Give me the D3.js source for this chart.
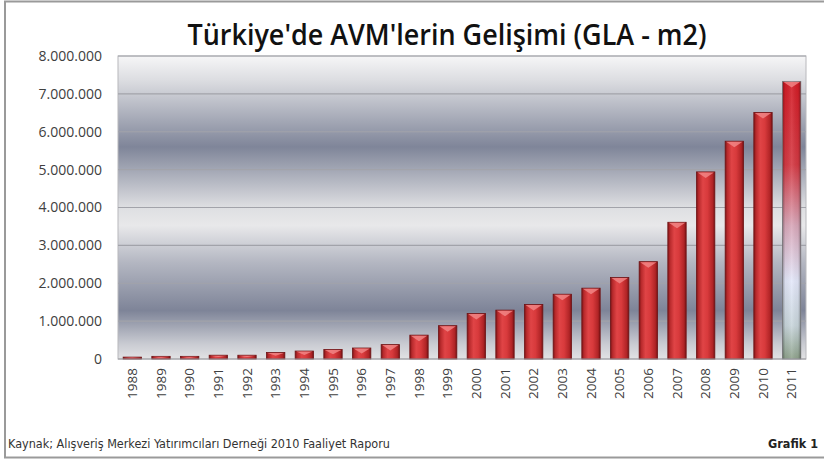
<!DOCTYPE html>
<html>
<head>
<meta charset="utf-8">
<script src="https://cdn.jsdelivr.net/npm/d3@7"></script>
<style>
  body { margin: 0; background: #fff; }
  svg { display: block; }
</style>
</head>
<body>
<div id="chart"></div>
<script>
// data
const years = ["1988","1989","1990","1991","1992","1993","1994","1995","1996","1997","1998","1999",
               "2000","2001","2002","2003","2004","2005","2006","2007","2008","2009","2010","2011"];
const gla = [50000, 70000, 70000, 100000, 100000, 170000, 210000, 250000, 290000, 380000, 630000, 880000,
             1200000, 1290000, 1440000, 1710000, 1870000, 2150000, 2570000, 3610000, 4940000, 5750000, 6510000, 7330000];
const yTicks = [0, 1000000, 2000000, 3000000, 4000000, 5000000, 6000000, 7000000, 8000000];

const width = 824, height = 461;
const margin = {top: 56, right: 18, bottom: 102, left: 118};

const svg = d3.select("#chart").append("svg")
    .attr("width", width)
    .attr("height", height);

const defs = svg.append("defs");

// plot background bands
const bg = defs.append("linearGradient").attr("id", "bg")
    .attr("x1", 0).attr("y1", 0).attr("x2", 0).attr("y2", 1);
[[0, "#f6f6f7"], [0.08, "#dcdde1"], [0.3, "#7f8599"], [0.5, "#dedfe2"], [0.56, "#e8e8ea"],
 [0.68, "#b4b7c2"], [0.84, "#7e8498"], [0.95, "#c9cbd2"], [1, "#e2e2e4"]]
    .forEach(s => bg.append("stop").attr("offset", s[0]).attr("stop-color", s[1]));

// red bar, horizontal shading
const red = defs.append("linearGradient").attr("id", "red")
    .attr("x1", 0).attr("y1", 0).attr("x2", 1).attr("y2", 0);
[[0, "#7e1416"], [0.12, "#b82a2c"], [0.35, "#e04446"], [0.6, "#d83a3c"], [0.88, "#b02426"], [1, "#761214"]]
    .forEach(s => red.append("stop").attr("offset", s[0]).attr("stop-color", s[1]));

// last bar fades to white / green
const last = defs.append("linearGradient").attr("id", "last")
    .attr("x1", 0).attr("y1", 0).attr("x2", 0).attr("y2", 1);
[[0, "#d41c26"], [0.3, "#d53a44"], [0.52, "#d9a8ba"], [0.72, "#e4e8fa"], [0.88, "#c9d6dc"], [1, "#8fa38c"]]
    .forEach(s => last.append("stop").attr("offset", s[0]).attr("stop-color", s[1]));
const edge = defs.append("linearGradient").attr("id", "edge")
    .attr("x1", 0).attr("y1", 0).attr("x2", 1).attr("y2", 0);
[[0, "#000", 0.35], [0.15, "#000", 0.05], [0.5, "#fff", 0.1], [0.85, "#000", 0.05], [1, "#000", 0.35]]
    .forEach(s => edge.append("stop").attr("offset", s[0]).attr("stop-color", s[1]).attr("stop-opacity", s[2]));

// outer frame
svg.append("rect")
    .attr("x", 5).attr("y", 1.5)
    .attr("width", 840).attr("height", 456)
    .attr("fill", "none")
    .attr("stroke", "#9a9a9a")
    .attr("stroke-width", 2);

const x = d3.scaleBand()
    .domain(years)
    .range([margin.left, width - margin.right])
    .paddingInner(0.36)
    .paddingOuter(0.18);

const y = d3.scaleLinear()
    .domain([0, 8000000])
    .range([height - margin.bottom, margin.top]);

// plot area
svg.append("rect")
    .attr("x", margin.left).attr("y", margin.top)
    .attr("width", width - margin.right - margin.left)
    .attr("height", y(0) - margin.top)
    .attr("fill", "url(#bg)")
    .attr("stroke", "#b8b8bc");

// grid lines
svg.append("g")
    .selectAll("line")
    .data(yTicks.slice(1))
    .enter().append("line")
    .attr("x1", margin.left).attr("x2", width - margin.right)
    .attr("y1", d => y(d)).attr("y2", d => y(d))
    .attr("stroke", "#a2a3aa")
    .attr("stroke-width", 1.2);

// y axis labels
const fmt = d => d3.format(",")(d).replace(/,/g, ".");
svg.append("g")
    .selectAll("text")
    .data(yTicks)
    .enter().append("text")
    .attr("x", 102)
    .attr("y", d => y(d))
    .attr("dy", "0.35em")
    .attr("text-anchor", "end")
    .style("font-family", "'Open Sans', sans-serif")
    .style("font-size", "14px")
    .style("fill", "#404040")
    .text(fmt);

// bars
const bars = svg.append("g")
    .selectAll("g")
    .data(years.map((yr, i) => ({year: yr, value: gla[i], i: i})))
    .enter().append("g");

bars.append("rect")
    .attr("x", d => x(d.year))
    .attr("y", d => y(d.value))
    .attr("width", x.bandwidth())
    .attr("height", d => y(0) - y(d.value))
    .attr("fill", d => d.i === years.length - 1 ? "url(#last)" : "url(#red)")
    .attr("stroke", d => d.i === years.length - 1 ? "#8a8a8e" : "#6e1214")
    .attr("stroke-width", 0.8);

bars.filter(d => d.i === years.length - 1).append("rect")
    .attr("x", d => x(d.year))
    .attr("y", d => y(d.value))
    .attr("width", x.bandwidth())
    .attr("height", d => y(0) - y(d.value))
    .attr("fill", "url(#edge)");

// bevel on top of each bar
bars.append("path")
    .attr("d", d => {
        const x0 = x(d.year), w = x.bandwidth(), t = y(d.value);
        const h = Math.min(6, (y(0) - t) * 0.5);
        return `M${x0 + 1},${t + 0.5} L${x0 + w - 1},${t + 0.5} L${x0 + w * 0.5},${t + h} Z`;
    })
    .attr("fill", "#f28a8a")
    .attr("opacity", 0.8);

// baseline
svg.append("line")
    .attr("x1", margin.left).attr("x2", width - margin.right)
    .attr("y1", y(0)).attr("y2", y(0))
    .attr("stroke", "#9a9aa0");

// x labels
svg.append("g")
    .selectAll("text")
    .data(years)
    .enter().append("text")
    .attr("transform", d => `translate(${x(d) + x.bandwidth() / 2}, ${y(0) + 9}) rotate(-90)`)
    .attr("dy", "0.35em")
    .attr("text-anchor", "end")
    .style("font-family", "'Open Sans', sans-serif")
    .style("font-size", "13.5px")
    .style("fill", "#404040")
    .text(d => d);

// title
svg.append("text")
    .attr("x", 447)
    .attr("y", 45)
    .attr("text-anchor", "middle")
    .attr("textLength", 519)
    .attr("lengthAdjust", "spacingAndGlyphs")
    .style("font-family", "'Open Sans', sans-serif")
    .style("font-weight", "600")
    .style("font-size", "29px")
    .style("fill", "#111")
    .text("Türkiye'de AVM'lerin Gelişimi (GLA - m2)");

// footer
svg.append("text")
    .attr("x", 8)
    .attr("y", 448)
    .attr("textLength", 382)
    .attr("lengthAdjust", "spacingAndGlyphs")
    .style("font-family", "'DejaVu Sans Condensed', 'DejaVu Sans', sans-serif")
    .style("font-size", "12.5px")
    .style("fill", "#333")
    .text("Kaynak; Alışveriş Merkezi Yatırımcıları Derneği 2010 Faaliyet Raporu");

svg.append("text")
    .attr("x", 818)
    .attr("y", 448)
    .attr("text-anchor", "end")
    .style("font-family", "'DejaVu Sans Condensed', 'DejaVu Sans', sans-serif")
    .style("font-size", "12.5px")
    .style("font-weight", "bold")
    .style("fill", "#222")
    .text("Grafik 1");
</script>
</body>
</html>
